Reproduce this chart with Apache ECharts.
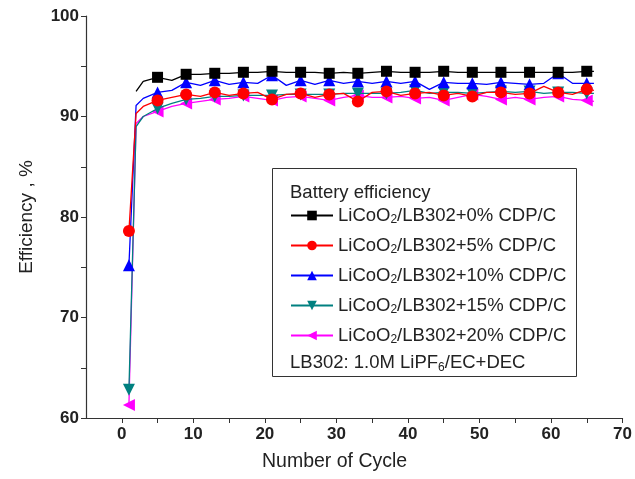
<!DOCTYPE html>
<html lang="en">
<head>
    <meta charset="UTF-8">
    <title>Battery efficiency</title>
    <style>
        * { margin: 0; padding: 0; }
        body { background: #fff; }
        #chart-container { width: 635px; height: 479px; }
    </style>
</head>
<body>
    <div id="chart-container"></div>
    <script src="https://cdn.jsdelivr.net/npm/echarts@6/dist/echarts.min.js"></script>
    <script>
        // cycle numbers the values were read at (markers every 4th cycle from 1)
        var cycles = [1, 2, 3, 5, 7, 9, 11, 13, 15, 17, 19, 21, 23, 25, 27, 29, 31, 33,
            35, 37, 39, 41, 43, 45, 47, 49, 51, 53, 55, 57, 59, 61, 63, 65, 66];

        var names = [
            'LiCoO{sub|2}/LB302+0% CDP/C',
            'LiCoO{sub|2}/LB302+5% CDP/C',
            'LiCoO{sub|2}/LB302+10% CDP/C',
            'LiCoO{sub|2}/LB302+15% CDP/C',
            'LiCoO{sub|2}/LB302+20% CDP/C'
        ];

        var eff0 = [null, 92.5, 93.5, 93.9, 93.6, 94.2, 94.2, 94.3, 94.3, 94.4, 94.4, 94.5, 94.4, 94.4, 94.4, 94.3, 94.4, 94.3,
            94.4, 94.5, 94.4, 94.4, 94.4, 94.5, 94.4, 94.4, 94.4, 94.4, 94.4, 94.4, 94.4, 94.4, 94.4, 94.5, 94.5];
        var eff5 = [78.6, 90.3, 91.0, 91.6, 91.9, 92.2, 92.0, 92.4, 92.1, 92.3, 92.4, 91.7, 92.2, 92.3, 91.9, 92.2, 92.3, 91.5,
            92.4, 92.5, 92.1, 92.3, 92.4, 92.1, 92.3, 92.0, 92.4, 92.4, 92.2, 92.3, 93.0, 92.4, 92.2, 92.7, 92.6];
        var eff10 = [75.2, 91.1, 91.8, 92.4, 92.6, 93.4, 93.1, 93.6, 93.2, 93.4, 93.3, 94.1, 93.1, 93.6, 93.2, 93.6, 93.3, 93.5,
            93.3, 93.5, 93.3, 93.5, 92.7, 93.4, 93.3, 93.3, 93.2, 93.4, 93.3, 93.2, 93.3, 94.3, 93.3, 93.3, 93.3];
        var eff15 = [62.8, 89.0, 90.0, 90.8, 91.3, 91.7, 91.8, 92.0, 92.0, 92.1, 92.1, 92.1, 92.2, 92.2, 92.2, 92.2, 92.3, 92.3,
            92.3, 92.3, 92.4, 92.6, 92.3, 92.4, 92.4, 92.3, 92.4, 92.5, 92.4, 92.5, 92.3, 92.4, 92.4, 92.3, 92.3];
        var eff20 = [61.3, 89.3, 90.0, 90.5, 91.0, 91.3, 91.5, 91.7, 91.8, 92.0, 91.8, 91.6, 91.9, 92.0, 91.8, 91.6, 91.9, 92.1,
            91.9, 91.9, 92.0, 91.8, 91.9, 91.6, 91.9, 92.2, 92.0, 91.7, 91.9, 91.7, 91.9, 92.0, 91.7, 91.6, 91.5];

        var xTicks = [0, 5, 10, 15, 20, 25, 30, 35, 40, 45, 50, 55, 60, 65, 70];
        var xLabels = [0, 10, 20, 30, 40, 50, 60, 70];

        var colors = ['#000000', '#ff0000', '#0000ff', '#008080', '#ff00ff'];
        var symbols = ['rect', 'circle', 'triangle', 'path://M0,0L10,0L5,9Z', 'path://M0,5L9,0L9,10Z'];
        var sizes = [11, 12, 12, 12, 12];
        var allValues = [eff0, eff5, eff10, eff15, eff20];

        var font = '"Liberation Sans", Arial, sans-serif';

        function buildData(values) {
            var out = [];
            for (var i = 0; i < cycles.length; i++) {
                if (values[i] === null) continue;
                var item = { value: [cycles[i], values[i]] };
                if ((cycles[i] - 1) % 4 !== 0) item.symbol = 'none';
                out.push(item);
            }
            return out;
        }

        var series = [];
        for (var s = 0; s < allValues.length; s++) {
            series.push({
                name: names[s],
                type: 'line',
                data: buildData(allValues[s]),
                symbol: symbols[s],
                symbolSize: sizes[s],
                showAllSymbol: true,
                color: colors[s],
                lineStyle: { width: 1.3, color: colors[s] },
                itemStyle: { color: colors[s] },
                z: 10 - s
            });
        }

        var dom = document.getElementById('chart-container');
        var myChart = echarts.init(dom, null, { renderer: 'canvas' });

        var option = {
            animation: false,
            backgroundColor: '#fff',
            textStyle: { fontFamily: font },
            grid: { left: 86, right: 11, top: 16, bottom: 61, containLabel: false },
            xAxis: {
                type: 'value',
                min: -5,
                max: 70,
                splitLine: { show: false },
                axisLine: { onZero: false, lineStyle: { color: '#333', width: 1.2 } },
                axisTick: { customValues: xTicks, length: 5, lineStyle: { color: '#333' } },
                axisLabel: {
                    customValues: xLabels, fontSize: 17, fontWeight: 700, color: '#222',
                    margin: 8, fontFamily: font
                }
            },
            yAxis: {
                type: 'value',
                min: 60,
                max: 100,
                interval: 10,
                name: 'Efficiency , %',
                nameLocation: 'middle',
                nameGap: 50,
                nameTextStyle: { fontSize: 19, color: '#222', fontFamily: font },
                splitLine: { show: false },
                axisLine: { show: true, onZero: false, lineStyle: { color: '#333', width: 1.2 } },
                axisTick: { show: true, length: 5, lineStyle: { color: '#333' } },
                minorTick: { show: true, splitNumber: 2, length: 5, lineStyle: { color: '#333' } },
                axisLabel: { fontSize: 17, fontWeight: 700, color: '#222', margin: 7, fontFamily: font }
            },
            legend: {
                orient: 'vertical',
                left: 290,
                top: 204,
                padding: 0,
                itemWidth: 42,
                itemHeight: 12,
                itemGap: 8,
                data: names,
                textStyle: {
                    fontSize: 18.5,
                    color: '#222',
                    fontFamily: font,
                    lineHeight: 21,
                    rich: {
                        sub: { fontSize: 12, verticalAlign: 'bottom', padding: [10, 0, 0, 0], lineHeight: 21 }
                    }
                }
            },
            graphic: [
                {
                    type: 'rect',
                    shape: { x: 272.5, y: 168.5, width: 304, height: 208 },
                    style: { fill: 'none', stroke: '#333', lineWidth: 1 },
                    z: 1
                },
                {
                    type: 'text',
                    left: 290,
                    top: 183,
                    style: { text: 'Battery efficiency', fontSize: 18.5, fill: '#222', fontFamily: font }
                },
                {
                    type: 'text',
                    left: 290,
                    top: 353,
                    style: {
                        text: 'LB302: 1.0M LiPF{sub|6}/EC+DEC',
                        fontSize: 18.5,
                        fill: '#222',
                        fontFamily: font,
                        rich: { sub: { fontSize: 12, padding: [10, 0, 0, 0] } }
                    }
                },
                {
                    type: 'text',
                    left: 262,
                    top: 452,
                    style: { text: 'Number of Cycle', fontSize: 19.5, fill: '#222', fontFamily: font }
                }
            ],
            series: series
        };

        myChart.setOption(option);
        window.addEventListener('resize', myChart.resize);
    </script>
</body>
</html>
